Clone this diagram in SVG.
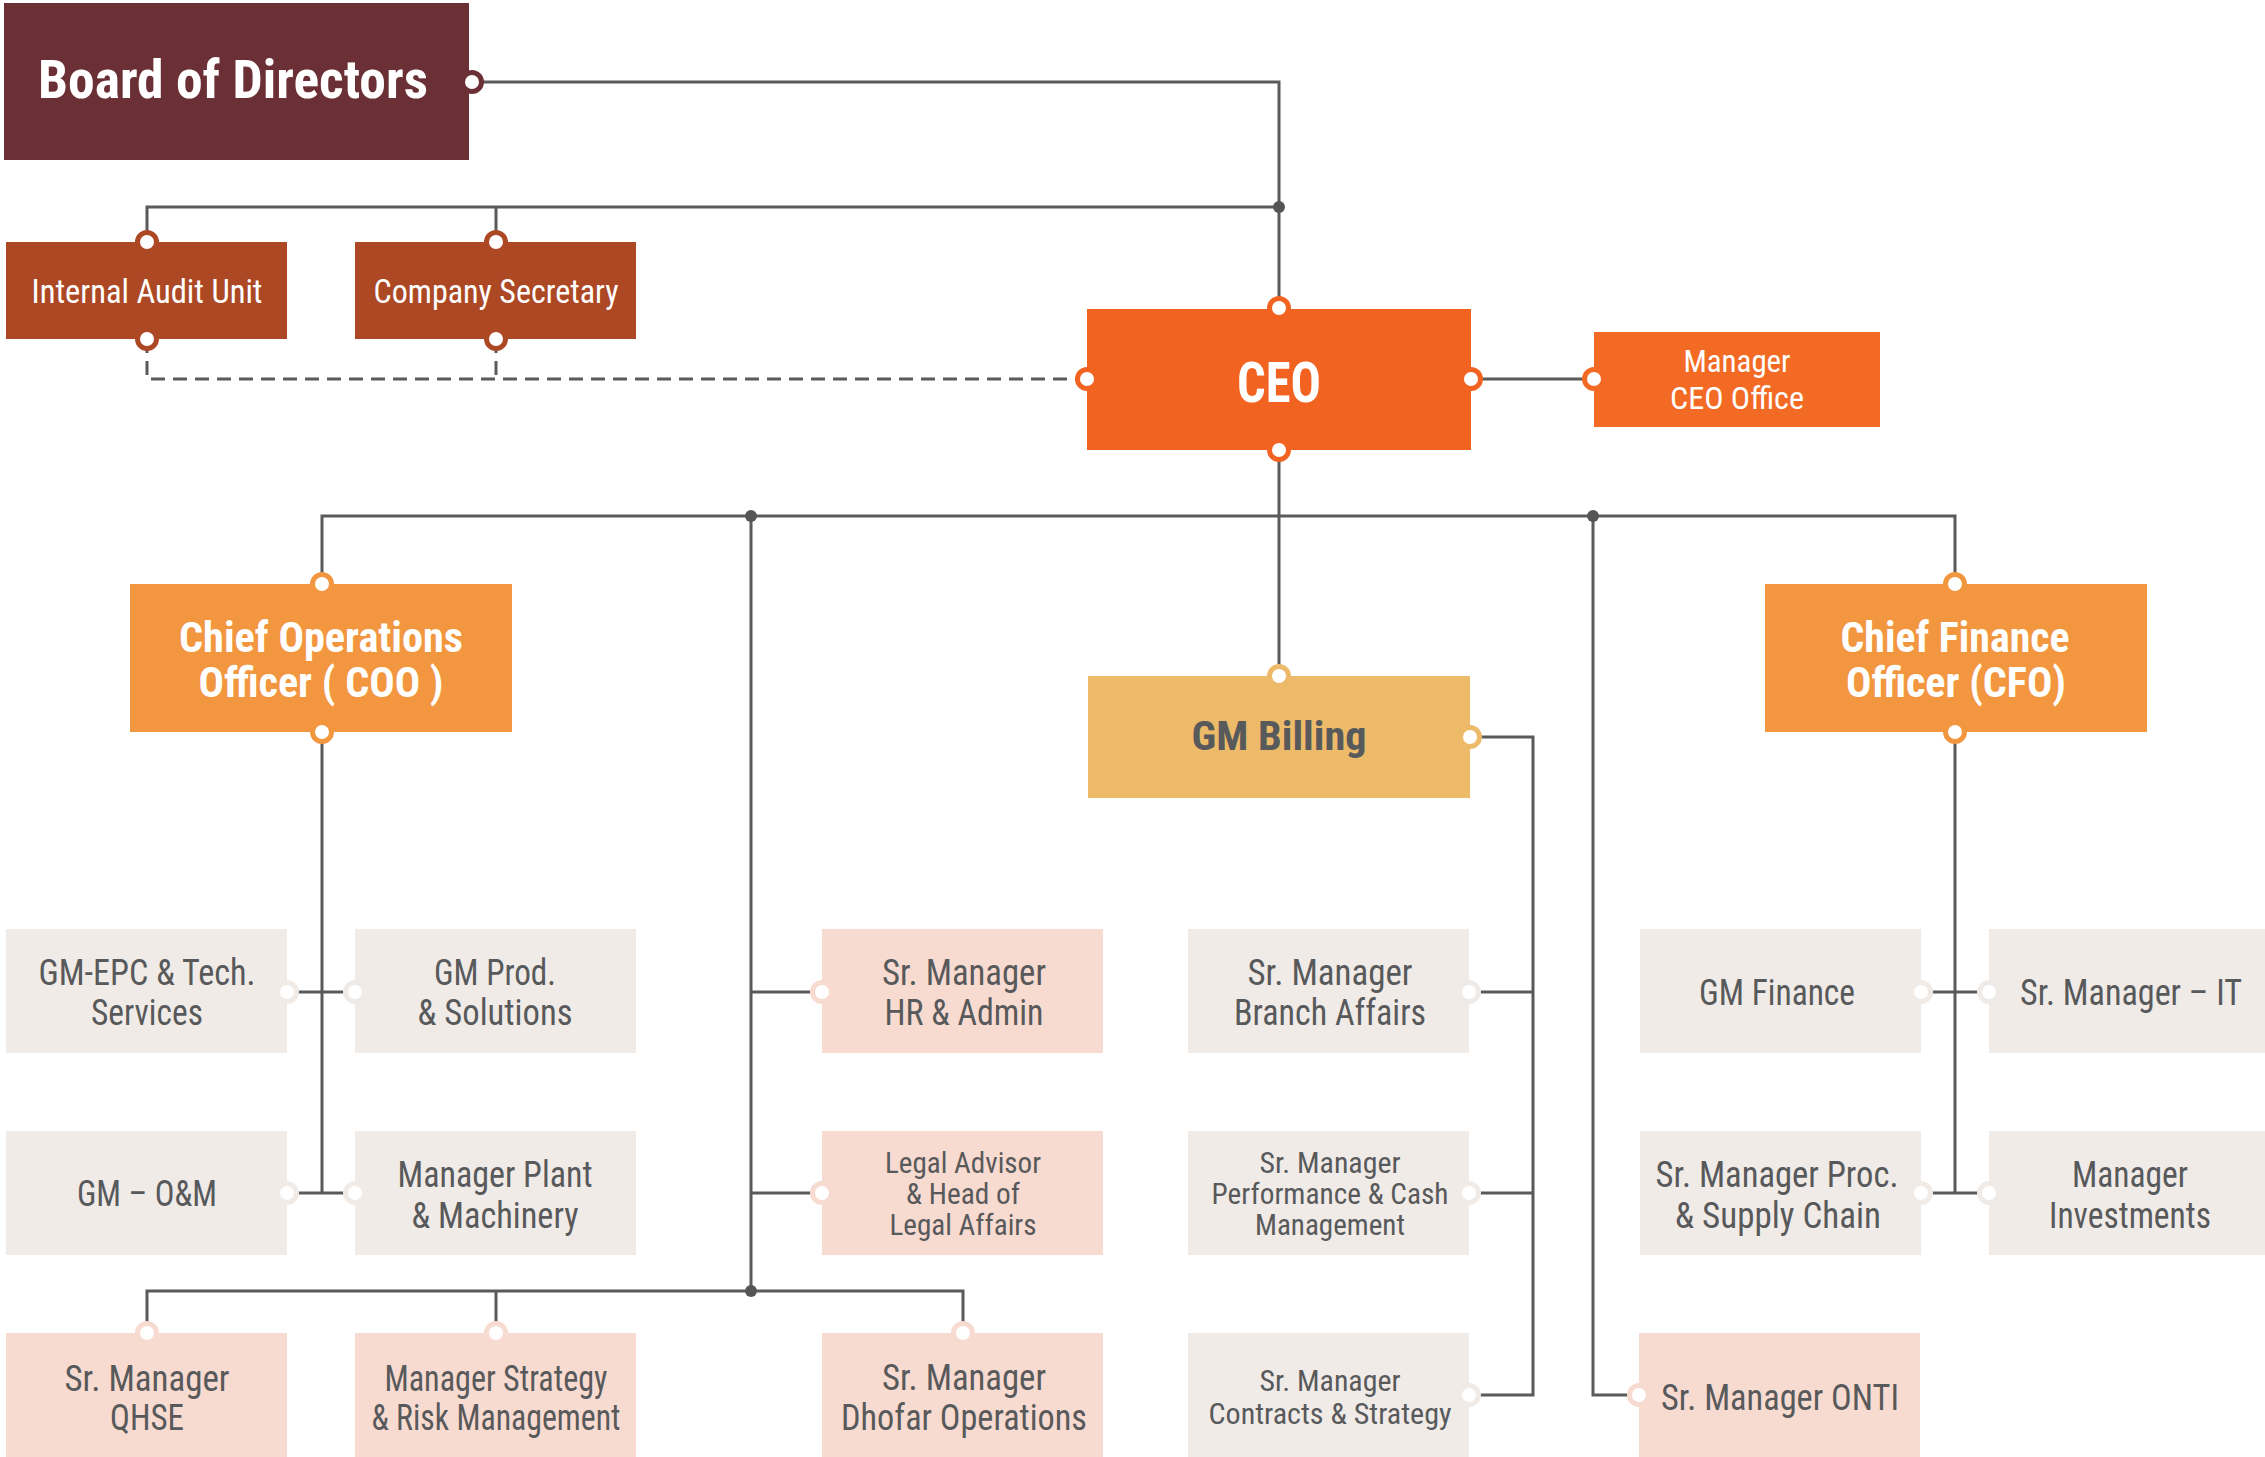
<svg xmlns="http://www.w3.org/2000/svg" width="2265" height="1457" viewBox="0 0 2265 1457">
<style>
text{font-family:"Roboto Condensed","Liberation Sans Narrow","DejaVu Sans Condensed",Roboto,"Liberation Sans",sans-serif;text-anchor:middle;}
.w{fill:#fff;}
.g{fill:#58595B;}
.b{font-weight:bold;}
.f36{font-size:36px;}
.f30{font-size:30px;}
.ln{fill:none;stroke:#5A5A5A;stroke-width:3;}
.dash{fill:none;stroke:#5A5A5A;stroke-width:3;stroke-dasharray:14 8;}
.dot{fill:#555;}
.port{fill:#fff;stroke-width:5;}
.gray{fill:#F0EBE7;}
.pink{fill:#F8DBD0;}
.pg{stroke:#F0EBE7;}
.pp{stroke:#F8DBD0;}
</style>
<g id="connectors">
<path class="ln" d="M472 82H1279V309"/>
<path class="ln" d="M147 242V207H1279"/>
<path class="ln" d="M496 207V242"/>
<path class="dash" d="M147 339V379H1087"/>
<path class="dash" d="M496 339V379"/>
<path class="ln" d="M1471 379H1594"/>
<path class="ln" d="M1279 450V676"/>
<path class="ln" d="M322 584V516H1955V584"/>
<path class="ln" d="M322 732V1193"/>
<path class="ln" d="M287 992H355M287 1193H355"/>
<path class="ln" d="M751 516V1291"/>
<path class="ln" d="M751 992H822M751 1193H822"/>
<path class="ln" d="M147 1333V1291H963V1333"/>
<path class="ln" d="M496 1291V1333"/>
<path class="ln" d="M1470 737H1533V1395H1469"/>
<path class="ln" d="M1469 992H1533M1469 1193H1533"/>
<path class="ln" d="M1955 732V1193"/>
<path class="ln" d="M1921 992H1989M1921 1193H1989"/>
<path class="ln" d="M1593 516V1395H1639"/>
<circle class="dot" cx="1279" cy="207" r="6"/>
<circle class="dot" cx="751" cy="516" r="6"/>
<circle class="dot" cx="1593" cy="516" r="6"/>
<circle class="dot" cx="751" cy="1291" r="6"/>
</g>
<g id="board">
<rect x="4" y="3" width="465" height="157" fill="#6B3035"/>
<text class="w b" x="233" y="98" font-size="54" textLength="390" lengthAdjust="spacingAndGlyphs">Board of Directors</text>
<circle class="port" cx="472" cy="82" r="9.5" stroke="#6B3035"/>
</g>
<g id="internal-audit">
<rect x="6" y="242" width="281" height="97" fill="#AD4825"/>
<text class="w" x="147" y="303" font-size="34" textLength="231" lengthAdjust="spacingAndGlyphs">Internal Audit Unit</text>
<circle class="port" cx="147" cy="242" r="9.5" stroke="#AD4825"/>
<circle class="port" cx="147" cy="339" r="9.5" stroke="#AD4825"/>
</g>
<g id="company-secretary">
<rect x="355" y="242" width="281" height="97" fill="#AD4825"/>
<text class="w" x="496" y="303" font-size="34" textLength="245" lengthAdjust="spacingAndGlyphs">Company Secretary</text>
<circle class="port" cx="496" cy="242" r="9.5" stroke="#AD4825"/>
<circle class="port" cx="496" cy="339" r="9.5" stroke="#AD4825"/>
</g>
<g id="ceo">
<rect x="1087" y="309" width="384" height="141" fill="#F26322"/>
<text class="w b" x="1279" y="402" font-size="55" textLength="84" lengthAdjust="spacingAndGlyphs">CEO</text>
<circle class="port" cx="1279" cy="308" r="9.5" stroke="#F26322"/>
<circle class="port" cx="1279" cy="450" r="9.5" stroke="#F26322"/>
<circle class="port" cx="1087" cy="379" r="9.5" stroke="#F26322"/>
<circle class="port" cx="1471" cy="379" r="9.5" stroke="#F26322"/>
</g>
<g id="manager-ceo-office">
<rect x="1594" y="332" width="286" height="95" fill="#F36A24"/>
<text class="w" x="1737" y="372" font-size="32" textLength="107" lengthAdjust="spacingAndGlyphs">Manager</text>
<text class="w" x="1737" y="409" font-size="32" textLength="134" lengthAdjust="spacingAndGlyphs">CEO Office</text>
<circle class="port" cx="1594" cy="379" r="9.5" stroke="#F36A24"/>
</g>
<g id="coo">
<rect x="130" y="584" width="382" height="148" fill="#F2963F"/>
<text class="w b" x="321" y="652" font-size="42" textLength="284" lengthAdjust="spacingAndGlyphs">Chief Operations</text>
<text class="w b" x="321" y="697" font-size="42" textLength="245" lengthAdjust="spacingAndGlyphs">Officer ( COO )</text>
<circle class="port" cx="322" cy="584" r="9.5" stroke="#F2963F"/>
<circle class="port" cx="322" cy="732" r="9.5" stroke="#F2963F"/>
</g>
<g id="cfo">
<rect x="1765" y="584" width="382" height="148" fill="#F2963F"/>
<text class="w b" x="1955" y="652" font-size="42" textLength="229" lengthAdjust="spacingAndGlyphs">Chief Finance</text>
<text class="w b" x="1956" y="697" font-size="42" textLength="220" lengthAdjust="spacingAndGlyphs">Officer (CFO)</text>
<circle class="port" cx="1955" cy="584" r="9.5" stroke="#F2963F"/>
<circle class="port" cx="1955" cy="732" r="9.5" stroke="#F2963F"/>
</g>
<g id="gm-billing">
<rect x="1088" y="676" width="382" height="122" fill="#EDBA6A"/>
<text class="g b" x="1279" y="750" font-size="40" textLength="175" lengthAdjust="spacingAndGlyphs">GM Billing</text>
<circle class="port" cx="1279" cy="676" r="9.5" stroke="#EDBA6A"/>
<circle class="port" cx="1470" cy="737" r="9.5" stroke="#EDBA6A"/>
</g>
<g id="gm-epc">
<rect class="gray" x="6" y="929" width="281" height="124"/>
<text class="g f36" x="147" y="985" textLength="217" lengthAdjust="spacingAndGlyphs">GM-EPC &amp; Tech.</text>
<text class="g f36" x="147" y="1025" textLength="112" lengthAdjust="spacingAndGlyphs">Services</text>
<circle class="port pg" cx="287" cy="992" r="9.5"/>
</g>
<g id="gm-prod">
<rect class="gray" x="355" y="929" width="281" height="124"/>
<text class="g f36" x="495" y="985" textLength="122" lengthAdjust="spacingAndGlyphs">GM Prod.</text>
<text class="g f36" x="495" y="1025" textLength="155" lengthAdjust="spacingAndGlyphs">&amp; Solutions</text>
<circle class="port pg" cx="355" cy="992" r="9.5"/>
</g>
<g id="hr-admin">
<rect class="pink" x="822" y="929" width="281" height="124"/>
<text class="g f36" x="964" y="985" textLength="164" lengthAdjust="spacingAndGlyphs">Sr. Manager</text>
<text class="g f36" x="964" y="1025" textLength="159" lengthAdjust="spacingAndGlyphs">HR &amp; Admin</text>
<circle class="port pp" cx="822" cy="992" r="9.5"/>
</g>
<g id="branch-affairs">
<rect class="gray" x="1188" y="929" width="281" height="124"/>
<text class="g f36" x="1330" y="985" textLength="165" lengthAdjust="spacingAndGlyphs">Sr. Manager</text>
<text class="g f36" x="1330" y="1025" textLength="192" lengthAdjust="spacingAndGlyphs">Branch Affairs</text>
<circle class="port pg" cx="1469" cy="992" r="9.5"/>
</g>
<g id="gm-finance">
<rect class="gray" x="1640" y="929" width="281" height="124"/>
<text class="g f36" x="1777" y="1005" textLength="156" lengthAdjust="spacingAndGlyphs">GM Finance</text>
<circle class="port pg" cx="1921" cy="992" r="9.5"/>
</g>
<g id="sr-manager-it">
<rect class="gray" x="1989" y="929" width="281" height="124"/>
<text class="g f36" x="2131" y="1005" textLength="222" lengthAdjust="spacingAndGlyphs">Sr. Manager – IT</text>
<circle class="port pg" cx="1989" cy="992" r="9.5"/>
</g>
<g id="gm-om">
<rect class="gray" x="6" y="1131" width="281" height="124"/>
<text class="g f36" x="147" y="1206" textLength="140" lengthAdjust="spacingAndGlyphs">GM – O&amp;M</text>
<circle class="port pg" cx="287" cy="1193" r="9.5"/>
</g>
<g id="plant-machinery">
<rect class="gray" x="355" y="1131" width="281" height="124"/>
<text class="g f36" x="495" y="1187" textLength="195" lengthAdjust="spacingAndGlyphs">Manager Plant</text>
<text class="g f36" x="495" y="1228" textLength="167" lengthAdjust="spacingAndGlyphs">&amp; Machinery</text>
<circle class="port pg" cx="355" cy="1193" r="9.5"/>
</g>
<g id="legal">
<rect class="pink" x="822" y="1131" width="281" height="124"/>
<text class="g f30" x="963" y="1173" textLength="156" lengthAdjust="spacingAndGlyphs">Legal Advisor</text>
<text class="g f30" x="963" y="1204" textLength="114" lengthAdjust="spacingAndGlyphs">&amp; Head of</text>
<text class="g f30" x="963" y="1235" textLength="147" lengthAdjust="spacingAndGlyphs">Legal Affairs</text>
<circle class="port pp" cx="822" cy="1193" r="9.5"/>
</g>
<g id="performance-cash">
<rect class="gray" x="1188" y="1131" width="281" height="124"/>
<text class="g f30" x="1330" y="1173" textLength="141" lengthAdjust="spacingAndGlyphs">Sr. Manager</text>
<text class="g f30" x="1330" y="1204" textLength="237" lengthAdjust="spacingAndGlyphs">Performance &amp; Cash</text>
<text class="g f30" x="1330" y="1235" textLength="150" lengthAdjust="spacingAndGlyphs">Management</text>
<circle class="port pg" cx="1469" cy="1193" r="9.5"/>
</g>
<g id="proc-supply">
<rect class="gray" x="1640" y="1131" width="281" height="124"/>
<text class="g f36" x="1777" y="1187" textLength="243" lengthAdjust="spacingAndGlyphs">Sr. Manager Proc.</text>
<text class="g f36" x="1778" y="1228" textLength="206" lengthAdjust="spacingAndGlyphs">&amp; Supply Chain</text>
<circle class="port pg" cx="1921" cy="1193" r="9.5"/>
</g>
<g id="investments">
<rect class="gray" x="1989" y="1131" width="281" height="124"/>
<text class="g f36" x="2130" y="1187" textLength="116" lengthAdjust="spacingAndGlyphs">Manager</text>
<text class="g f36" x="2130" y="1228" textLength="162" lengthAdjust="spacingAndGlyphs">Investments</text>
<circle class="port pg" cx="1989" cy="1193" r="9.5"/>
</g>
<g id="qhse">
<rect class="pink" x="6" y="1333" width="281" height="124"/>
<text class="g f36" x="147" y="1391" textLength="165" lengthAdjust="spacingAndGlyphs">Sr. Manager</text>
<text class="g f36" x="147" y="1430" textLength="74" lengthAdjust="spacingAndGlyphs">QHSE</text>
<circle class="port pp" cx="147" cy="1333" r="9.5"/>
</g>
<g id="strategy-risk">
<rect class="pink" x="355" y="1333" width="281" height="124"/>
<text class="g f36" x="496" y="1391" textLength="223" lengthAdjust="spacingAndGlyphs">Manager Strategy</text>
<text class="g f36" x="496" y="1430" textLength="249" lengthAdjust="spacingAndGlyphs">&amp; Risk Management</text>
<circle class="port pp" cx="496" cy="1333" r="9.5"/>
</g>
<g id="dhofar">
<rect class="pink" x="822" y="1333" width="281" height="124"/>
<text class="g f36" x="964" y="1390" textLength="164" lengthAdjust="spacingAndGlyphs">Sr. Manager</text>
<text class="g f36" x="964" y="1430" textLength="246" lengthAdjust="spacingAndGlyphs">Dhofar Operations</text>
<circle class="port pp" cx="963" cy="1333" r="9.5"/>
</g>
<g id="contracts-strategy">
<rect class="gray" x="1188" y="1333" width="281" height="124"/>
<text class="g f30" x="1330" y="1391" textLength="141" lengthAdjust="spacingAndGlyphs">Sr. Manager</text>
<text class="g f30" x="1330" y="1424" textLength="243" lengthAdjust="spacingAndGlyphs">Contracts &amp; Strategy</text>
<circle class="port pg" cx="1469" cy="1395" r="9.5"/>
</g>
<g id="onti">
<rect class="pink" x="1639" y="1333" width="281" height="124"/>
<text class="g f36" x="1780" y="1410" textLength="238" lengthAdjust="spacingAndGlyphs">Sr. Manager ONTI</text>
<circle class="port pp" cx="1639" cy="1395" r="9.5"/>
</g>
</svg>
